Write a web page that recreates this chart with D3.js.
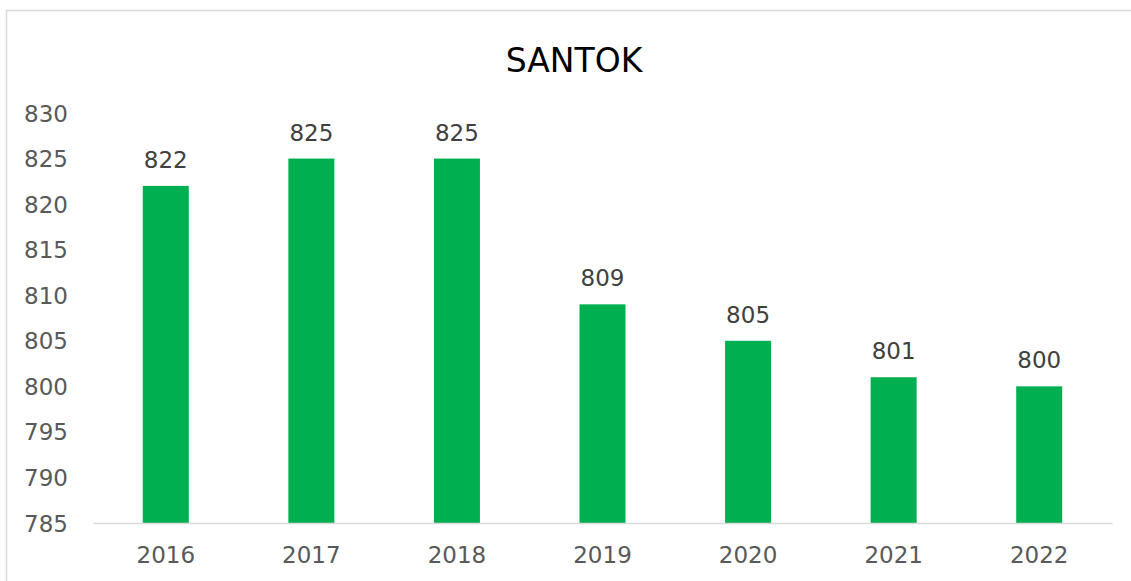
<!DOCTYPE html>
<html>
<head>
<meta charset="utf-8">
<script src="https://cdn.jsdelivr.net/npm/d3@7"></script>
<style>
  html, body { margin: 0; padding: 0; background: #fff; }
  svg { display: block; }
</style>
</head>
<body>
<svg id="chart" width="1131" height="581"></svg>
<script>
const title = "SANTOK";
const categories = ["2016", "2017", "2018", "2019", "2020", "2021", "2022"];
const values = [822, 825, 825, 809, 805, 801, 800];
const yTicks = [785, 790, 795, 800, 805, 810, 815, 820, 825, 830];

(function () {
const svg = d3.select("#chart");
const W = 1131, H = 581;
const font = "'DejaVu Sans', Verdana, sans-serif";
const textColor = "#595959";

// chart border
svg.append("rect")
  .attr("x", 6.5).attr("y", 10.5)
  .attr("width", W + 10).attr("height", H + 10)
  .attr("fill", "#fff").attr("stroke", "#d9d9d9").attr("stroke-width", 1.5);

const plotLeft = 93, plotRight = 1112, plotTop = 113, plotBottom = 523;

const x = d3.scaleBand()
  .domain(categories)
  .range([plotLeft, plotRight])
  .paddingInner(0.684)
  .paddingOuter(0.342);

const y = d3.scaleLinear()
  .domain([785, 830])
  .range([plotBottom, plotTop]);

// title
svg.append("text")
  .attr("x", 574).attr("y", 60)
  .attr("text-anchor", "middle")
  .attr("dominant-baseline", "central")
  .attr("font-family", font)
  .attr("font-size", 33)
  .attr("fill", "#000")
  .text(title);

// y axis labels
const yAxis = d3.axisLeft(y).tickValues(yTicks).tickSize(0).tickPadding(0).tickFormat(d3.format("d"));
const yg = svg.append("g").attr("transform", `translate(${68},0)`).call(yAxis);
yg.select(".domain").remove();
yg.selectAll("text")
  .attr("font-family", font)
  .attr("font-size", 23)
  .attr("fill", textColor)
  .attr("dy", "0.35em");

// bars
svg.append("g").selectAll("rect")
  .data(values)
  .join("rect")
  .attr("x", (d, i) => x(categories[i]))
  .attr("y", d => y(d))
  .attr("width", x.bandwidth())
  .attr("height", d => plotBottom - y(d))
  .attr("fill", "#00B050");

// value labels
svg.append("g").selectAll("text")
  .data(values)
  .join("text")
  .attr("x", (d, i) => x(categories[i]) + x.bandwidth() / 2)
  .attr("y", d => y(d) - 26)
  .attr("text-anchor", "middle")
  .attr("dominant-baseline", "central")
  .attr("font-family", font)
  .attr("font-size", 23)
  .attr("fill", "#404040")
  .text(d => d);

// x axis
const xAxis = d3.axisBottom(x).tickSize(0).tickPadding(0);
const xg = svg.append("g").attr("transform", `translate(0,${plotBottom})`).call(xAxis);
xg.select(".domain").attr("stroke", "#d9d9d9").attr("stroke-width", 1.5);
xg.selectAll("text")
  .attr("font-family", font)
  .attr("font-size", 23)
  .attr("fill", textColor)
  .attr("y", 32)
  .attr("dy", "0.35em");
})();
</script>
</body>
</html>
